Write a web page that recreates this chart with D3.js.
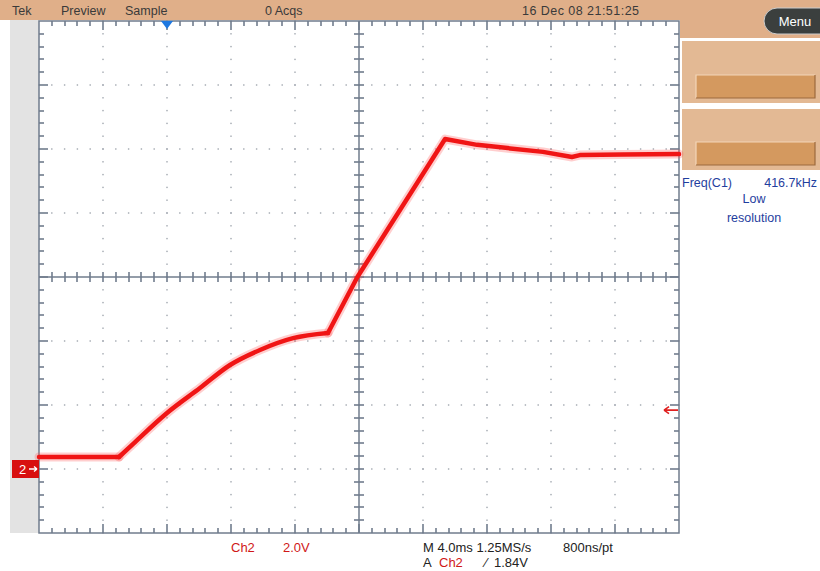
<!DOCTYPE html>
<html><head><meta charset="utf-8">
<script src="https://cdn.jsdelivr.net/npm/d3@7"></script>
<style>html,body{margin:0;padding:0;background:#fff;overflow:hidden}svg{display:block;font-family:"Liberation Sans",Arial,sans-serif}</style>
</head><body>
<svg id="c" width="820" height="571"></svg>
<script>
// ---- data (Ch2, time in ms relative to trigger, volts) ----
// flat baseline
const baseTime  = [-8.0, -3.0];
const baseVolts = [0.375, 0.375];
// slow curved rise
const riseTime  = [-3.0, -2.13, 0.0, 2.06, 3.94, 5.81, 7.88, 10.06];
const riseVolts = [0.375, 0.78, 1.75, 2.53, 3.25, 3.72, 4.09, 4.25];
// fast ramp, overshoot and settling
const rampTime  = [10.06, 11.9, 17.38, 19.38, 23.5, 25.31, 25.8, 28.5, 32.0];
const rampVolts = [4.25, 6.0, 10.31, 10.13, 9.91, 9.75, 9.81, 9.83, 9.84];
const xDomain = [-8, 32];      // 4.0 ms/div, 10 div
const yDomain = [-2, 14];      // 2.0 V/div, 8 div, ground marker at 0 V
const triggerTime = 0;
const triggerLevel = 1.84;
const headerTexts = ["Tek", "Preview", "Sample", "0 Acqs", "16 Dec 08 21:51:25"];
const bottomRow1 = ["Ch2", "2.0V", "M 4.0ms 1.25MS/s", "800ns/pt"];
const bottomRow2 = ["A", "Ch2", "\u2215", "1.84V"];
const sideTexts = ["Freq(C1)", "416.7kHz", "Low", "resolution"];

const svg = d3.select("#c");
const L = 39, R = 679, T = 21, B = 533;
const x = d3.scaleLinear().domain(xDomain).range([L, R]);
const y = d3.scaleLinear().domain(yDomain).range([B, T]);
const gridCol = "#707c8d";

// header bar
svg.append("rect").attr("x",0).attr("y",0).attr("width",820).attr("height",20).attr("fill","#e0af89");
svg.append("rect").attr("x",680).attr("y",0).attr("width",140).attr("height",38).attr("fill","#e0af89");
// left gray strip
svg.append("rect").attr("x",10).attr("y",20).attr("width",L-10).attr("height",B-20).attr("fill","#e3e3e3");

// right panels
svg.append("rect").attr("x",682).attr("y",41).attr("width",138).attr("height",62).attr("fill","#e3b994");
svg.append("rect").attr("x",682).attr("y",109).attr("width",138).attr("height",61).attr("fill","#e3b994");
[75,142].forEach(by=>{
  svg.append("rect").attr("x",696).attr("y",by).attr("width",119).attr("height",23).attr("fill","#d4995f");
  svg.append("path").attr("d",`M696,${by+23}V${by}H815`).attr("stroke","#f3d6b8").attr("fill","none").attr("stroke-width",1.2);
  svg.append("path").attr("d",`M696,${by+23}H815V${by}`).attr("stroke","#9c6a3e").attr("fill","none").attr("stroke-width",1.2);
});
// menu button
svg.append("rect").attr("x",764).attr("y",8).attr("width",70).attr("height",26).attr("rx",13).attr("fill","#3b3f3e").attr("stroke","#ccc").attr("stroke-width",1);
svg.append("text").attr("x",795).attr("y",26).attr("text-anchor","middle").attr("fill","#fff").attr("font-size",13).text("Menu");

// header text
const hx = [12, 61, 125, 265, 522];
headerTexts.forEach((t,i)=>{
  const el = svg.append("text").attr("x",hx[i]).attr("y",15).attr("font-size",12.5).attr("fill","#3a3a3a").text(t);
  if(i===4) el.attr("textLength",117).attr("lengthAdjust","spacing");
});

// grid dots
const majX = d3.range(0, 11).map(i=>xDomain[0]+i*4);
const majY = d3.range(0, 9).map(i=>yDomain[0]+i*2);
const minX = d3.range(0, 51).map(i=>xDomain[0]+i*0.8);
const minY = d3.range(0, 41).map(i=>yDomain[0]+i*0.4);
const dots = [];
majX.slice(1,-1).forEach((mx,i)=>{ if(i!==4) minY.forEach(my=>dots.push([x(mx),y(my)])); });
majY.slice(1,-1).forEach((my,i)=>{ if(i!==3) minX.forEach(mx=>dots.push([x(mx),y(my)])); });
svg.append("g").selectAll("rect").data(dots).join("rect")
  .attr("x",d=>d[0]-0.7).attr("y",d=>d[1]-0.7).attr("width",1.4).attr("height",1.4).attr("fill","#a0a6ae");

// frame
svg.append("rect").attr("x",L).attr("y",T).attr("width",R-L).attr("height",B-T).attr("fill","none").attr("stroke",gridCol).attr("stroke-width",1.5);
// center cross
const cx = x(12), cy = y(6);
svg.append("line").attr("x1",cx).attr("x2",cx).attr("y1",T).attr("y2",B).attr("stroke",gridCol).attr("stroke-width",1.5);
svg.append("line").attr("x1",L).attr("x2",R).attr("y1",cy).attr("y2",cy).attr("stroke",gridCol).attr("stroke-width",1.5);
// ticks
const tickSegs = [];
minX.forEach((mx,i)=>{
  if(i===0||i===minX.length-1) return;
  const px = Math.round(x(mx)); const len = (i%5===0)?9:5;
  tickSegs.push([px,T,px,T+len],[px,B,px,B-len],[px,cy-5,px,cy+5]);
});
minY.forEach((my,i)=>{
  if(i===0||i===minY.length-1) return;
  const py = Math.round(y(my)); const len = (i%5===0)?9:5;
  tickSegs.push([L,py,L+len,py],[R,py,R-len,py],[cx-5,py,cx+5,py]);
});
svg.append("g").selectAll("line").data(tickSegs).join("line")
  .attr("x1",d=>d[0]).attr("y1",d=>d[1]).attr("x2",d=>d[2]).attr("y2",d=>d[3])
  .style("stroke",gridCol).style("stroke-width","1.6px");

// trace
const zip = (a,b)=>a.map((t,i)=>[t,b[i]]);
const lin = d3.line().x(d=>x(d[0])).y(d=>y(d[1]));
const smooth = d3.line().x(d=>x(d[0])).y(d=>y(d[1])).curve(d3.curveMonotoneX);
const segs = [lin(zip(baseTime,baseVolts)), smooth(zip(riseTime,riseVolts)), lin(zip(rampTime,rampVolts))];
const tr = svg.append("g");
segs.forEach(d=>tr.append("path").attr("d",d).attr("fill","none").attr("stroke","#ff5050").attr("stroke-opacity",0.28).attr("stroke-width",9).attr("stroke-linejoin","round").attr("stroke-linecap","round"));
segs.forEach(d=>tr.append("path").attr("d",d).attr("fill","none").attr("stroke","#f01515").attr("stroke-width",4.5).attr("stroke-linejoin","round").attr("stroke-linecap","round"));

// trigger position marker
const tx = x(triggerTime);
svg.append("path").attr("d",`M${tx-6},${T}L${tx+6},${T}L${tx},${T+8}Z`).attr("fill","#1e78e0");
// trigger level arrow
const ty = y(triggerLevel);
svg.append("path").attr("d",`M664,${ty}H678 M664,${ty}l5,-3.5 M664,${ty}l5,3.5`).attr("stroke","#e02020").attr("stroke-width",1.6).attr("fill","none");
// ground marker
const gy = y(0);
svg.append("rect").attr("x",12).attr("y",gy-9).attr("width",27).attr("height",18).attr("fill","#d81010");
svg.append("text").attr("x",19).attr("y",gy+5).attr("font-size",13).attr("fill","#fff").text("2");
svg.append("path").attr("d",`M29,${gy}H37 M37,${gy}l-3,-2.5 M37,${gy}l-3,2.5`).attr("stroke","#fff").attr("stroke-width",1.4).attr("fill","none");

// bottom readouts
const b1x = [231, 283, 423, 563], b1c = ["#d01818","#d01818","#222","#222"];
bottomRow1.forEach((t,i)=>svg.append("text").attr("x",b1x[i]).attr("y",552).attr("font-size",13).attr("fill",b1c[i]).text(t));
const b2x = [423, 439, 485, 494], b2c = ["#222","#d01818","#222","#222"];
bottomRow2.forEach((t,i)=>svg.append("text").attr("x",b2x[i]).attr("y",567).attr("font-size",13).attr("fill",b2c[i]).text(t));

// side measurement
const sc = "#1f3e9e";
svg.append("text").attr("x",682).attr("y",187).attr("font-size",12.5).attr("fill",sc).text(sideTexts[0]);
svg.append("text").attr("x",817).attr("y",187).attr("text-anchor","end").attr("font-size",12.5).attr("fill",sc).text(sideTexts[1]);
svg.append("text").attr("x",754).attr("y",203).attr("text-anchor","middle").attr("font-size",12.5).attr("fill",sc).text(sideTexts[2]);
svg.append("text").attr("x",754).attr("y",222).attr("text-anchor","middle").attr("font-size",12.5).attr("fill",sc).text(sideTexts[3]);
</script>
</body></html>
